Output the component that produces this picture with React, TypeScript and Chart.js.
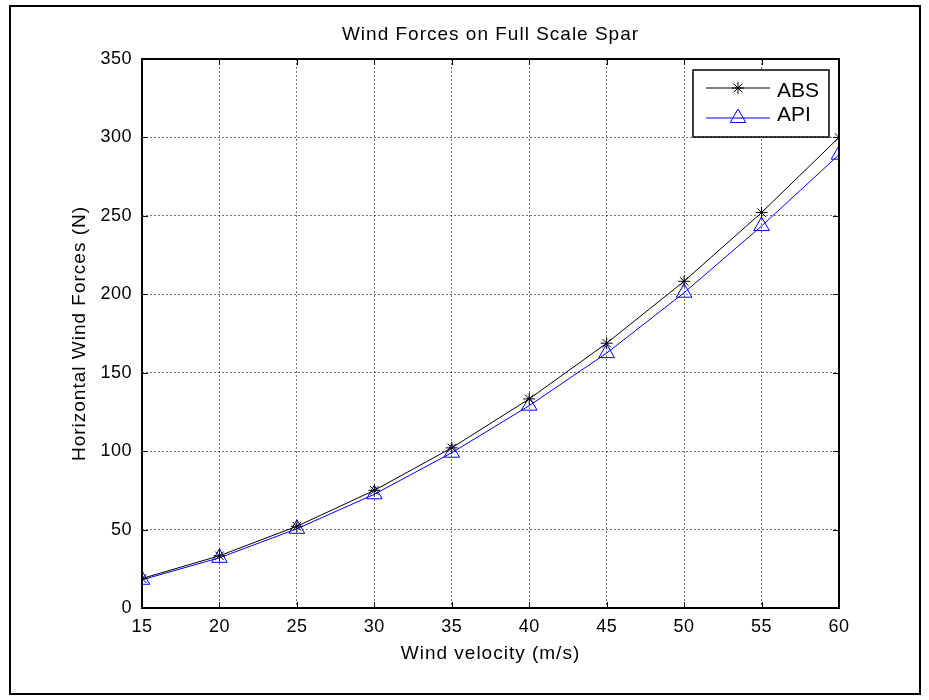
import React, { useEffect, useRef } from "react";
import { Chart, registerables } from "chart.js";
import { drawPoint } from "chart.js/helpers";

Chart.register(...registerables);

// ---- data ----
const velocities = [15, 20, 25, 30, 35, 40, 45, 50, 55, 60];
const absForces = [18.8, 33.3, 52.1, 75, 102.1, 133.3, 168.8, 208.3, 252.1, 300];
const apiForces = [18, 32, 50.5, 72.5, 99, 129, 162.5, 201, 243.5, 289];
const seriesLabels = ["ABS", "API"];
const xRange = [15, 60];
const yRange = [0, 350];
const xStep = 5;
const yStep = 50;
const chartTitle = "Wind Forces on Full Scale Spar";
const xTitle = "Wind velocity (m/s)";
const yTitle = "Horizontal Wind Forces (N)";

const FONT = "'Liberation Sans', Arial, Helvetica, sans-serif";

const setLS = (chart: any, v: string) => {
  const ctx: any = chart.ctx;
  if (ctx && "letterSpacing" in ctx) ctx.letterSpacing = v;
};

const matlabPlugin = {
  id: "matlabStyle",
  beforeUpdate(chart: any) {
    setLS(chart, "0px");
  },
  beforeDraw(chart: any) {
    const { ctx, width, height } = chart;
    ctx.save();
    ctx.fillStyle = "#ffffff";
    ctx.fillRect(0, 0, width, height);
    ctx.restore();
    setLS(chart, "1px");
  },
  beforeDatasetsDraw(chart: any) {
    setLS(chart, "0px");
  },
  afterDatasetsDraw(chart: any) {
    setLS(chart, "0.5px");
  },
  afterDraw(chart: any) {
    setLS(chart, "0px");
    const { ctx, chartArea: a, scales } = chart;
    const xs = scales.x;
    const ys = scales.y;
    ctx.save();
    // inward tick marks on all four sides
    ctx.strokeStyle = "#000";
    ctx.lineWidth = 1;
    ctx.setLineDash([]);
    ctx.beginPath();
    xs.ticks.forEach((t: any) => {
      const px = Math.round(xs.getPixelForValue(t.value)) + 0.5;
      ctx.moveTo(px, a.bottom);
      ctx.lineTo(px, a.bottom - 6);
      ctx.moveTo(px, a.top);
      ctx.lineTo(px, a.top + 6);
    });
    ys.ticks.forEach((t: any) => {
      const py = Math.round(ys.getPixelForValue(t.value)) + 0.5;
      ctx.moveTo(a.left, py);
      ctx.lineTo(a.left + 6, py);
      ctx.moveTo(a.right, py);
      ctx.lineTo(a.right - 6, py);
    });
    ctx.stroke();
    // axes box
    ctx.lineWidth = 2;
    ctx.strokeRect(a.left, a.top, a.right - a.left, a.bottom - a.top);

    // legend box (MATLAB style, inside top-right)
    const lw = 136;
    const lh = 67;
    const lx = a.right - 10 - lw;
    const ly = a.top + 11;
    ctx.fillStyle = "#ffffff";
    ctx.fillRect(lx, ly, lw, lh);
    ctx.lineWidth = 1.5;
    ctx.strokeStyle = "#000";
    ctx.strokeRect(lx, ly, lw, lh);
    const lineYs = [ly + 18, ly + 48];
    const textYs = [ly + 21.5, ly + 45];
    chart.data.datasets.forEach((ds: any, i: number) => {
      const y = lineYs[i];
      ctx.strokeStyle = ds.borderColor;
      ctx.lineWidth = 1;
      ctx.beginPath();
      ctx.moveTo(lx + 13, y);
      ctx.lineTo(lx + 77, y);
      ctx.stroke();
      ctx.fillStyle = "rgba(0,0,0,0)";
      ctx.strokeStyle = ds.pointBorderColor;
      drawPoint(
        ctx,
        { pointStyle: ds.pointStyle, radius: ds.pointRadius, rotation: 0, borderWidth: 1 },
        lx + 45,
        y
      );
      ctx.fillStyle = "#000";
      ctx.font = `21px ${FONT}`;
      ctx.textAlign = "left";
      ctx.textBaseline = "middle";
      ctx.fillText(ds.label, lx + 84, textYs[i]);
    });
    ctx.restore();
  },
};

export default function App() {
  const canvasRef = useRef<HTMLCanvasElement | null>(null);

  useEffect(() => {
    const canvas = canvasRef.current;
    if (!canvas) return;
    Chart.defaults.font.family = FONT;
    Chart.defaults.color = "#000";

    const chart = new Chart(canvas, {
      type: "line",
      data: {
        datasets: [
          {
            label: seriesLabels[0],
            data: velocities.map((v, i) => ({ x: v, y: absForces[i] })),
            borderColor: "#000000",
            borderWidth: 1,
            pointStyle: "star",
            pointRadius: 6,
            pointBorderColor: "#000000",
            pointBackgroundColor: "rgba(0,0,0,0)",
            pointBorderWidth: 1,
            tension: 0,
          },
          {
            label: seriesLabels[1],
            data: velocities.map((v, i) => ({ x: v, y: apiForces[i] })),
            borderColor: "#0000ff",
            borderWidth: 1,
            pointStyle: "triangle",
            pointRadius: 9,
            pointBorderColor: "#0000ff",
            pointBackgroundColor: "rgba(0,0,0,0)",
            pointBorderWidth: 1,
            tension: 0,
          },
        ],
      },
      options: {
        animation: false,
        responsive: false,
        devicePixelRatio: 1,
        layout: { padding: { top: 0, left: 52, right: 0, bottom: 0 } },
        plugins: {
          legend: { display: false },
          tooltip: { enabled: false },
          title: {
            display: true,
            text: chartTitle,
            color: "#000",
            font: { size: 19, weight: "normal", family: FONT, lineHeight: 1.2 },
            padding: { top: 23, bottom: 13.2 },
          },
        },
        scales: {
          x: {
            type: "linear",
            min: xRange[0],
            max: xRange[1],
            ticks: {
              stepSize: xStep,
              padding: 8.5,
              color: "#000",
              font: { size: 18, family: FONT },
              maxRotation: 0,
              autoSkip: false,
              z: 1,
            },
            grid: { color: "rgba(0,0,0,0.55)", lineWidth: 1, drawTicks: false },
            border: { display: false, dash: [2, 2] },
            title: {
              display: true,
              text: xTitle,
              color: "#000",
              font: { size: 19, family: FONT, lineHeight: 1.2 },
              padding: { top: 0, bottom: 35 },
            },
            afterFit: (s: any) => {
              s.height = 92;
            },
          },
          y: {
            type: "linear",
            min: yRange[0],
            max: yRange[1],
            ticks: {
              stepSize: yStep,
              padding: 10,
              color: "#000",
              font: { size: 18, family: FONT },
              z: 1,
            },
            grid: { color: "rgba(0,0,0,0.55)", lineWidth: 1, drawTicks: false },
            border: { display: false, dash: [2, 2] },
            title: {
              display: true,
              text: yTitle,
              color: "#000",
              font: { size: 19, family: FONT, lineHeight: 1.2 },
              padding: { top: 16, bottom: 0 },
            },
            afterFit: (s: any) => {
              s.width = 90;
            },
          },
          yRight: {
            type: "linear",
            position: "right",
            min: yRange[0],
            max: yRange[1],
            display: true,
            ticks: { display: false },
            grid: { display: false, drawOnChartArea: false, drawTicks: false },
            border: { display: false },
            title: { display: false },
            afterFit: (s: any) => {
              s.width = 90;
            },
          },
        },
      } as any,
      plugins: [matlabPlugin as any],
    });

    return () => {
      chart.destroy();
    };
  }, []);

  return (
    <div
      style={{
        position: "absolute",
        left: 0,
        top: 0,
        width: 929,
        height: 700,
        background: "#fff",
      }}
    >
      <canvas
        ref={canvasRef}
        width={929}
        height={700}
        style={{ display: "block", width: 929, height: 700 }}
      />
      <div
        style={{
          position: "absolute",
          left: 9,
          top: 5,
          width: 912,
          height: 690,
          border: "2px solid #000",
          boxSizing: "border-box",
          pointerEvents: "none",
        }}
      />
    </div>
  );
}
